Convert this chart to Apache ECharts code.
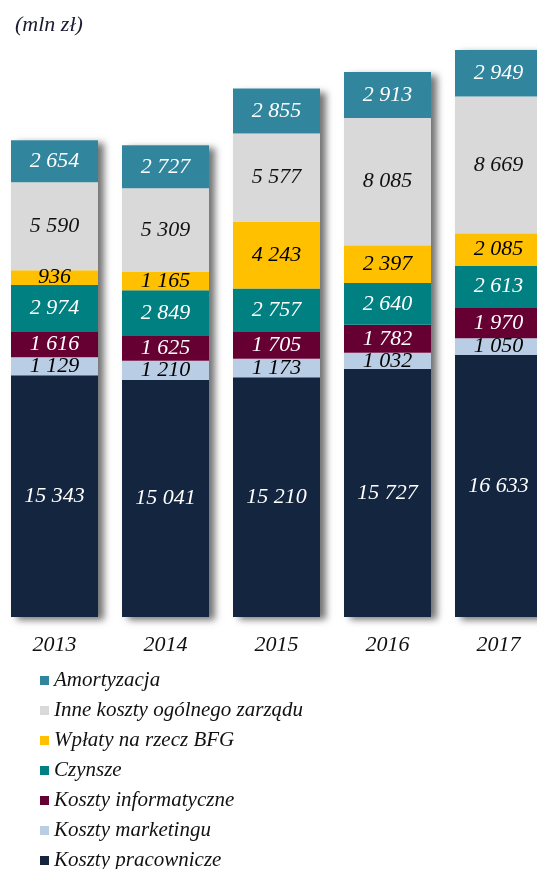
<!DOCTYPE html>
<html>
<head>
<meta charset="utf-8">
<script src="https://cdn.jsdelivr.net/npm/echarts@6/dist/echarts.min.js"></script>
<style>
  html, body { margin: 0; padding: 0; background: #fff; }
  #chart { width: 537px; height: 869px; }
</style>
</head>
<body>
<div id="chart"></div>
<script>
// lata
var years = ['2013', '2014', '2015', '2016', '2017']
// serie od dołu słupka
var pracownicze = [15343, 15041, 15210, 15727, 16633]
var marketing = [1129, 1210, 1173, 1032, 1050]
var informatyczne = [1616, 1625, 1705, 1782, 1970]
var czynsze = [2974, 2849, 2757, 2640, 2613]
var bfg = [936, 1165, 4243, 2397, 2085]
var inne = [5590, 5309, 5577, 8085, 8669]
var amortyzacja = [2654, 2727, 2855, 2913, 2949]

var seriesDefs = [
  { name: 'Koszty pracownicze', data: pracownicze, color: '#13253f', text: '#fff' },
  { name: 'Koszty marketingu', data: marketing, color: '#b9cde5', text: '#000' },
  { name: 'Koszty informatyczne', data: informatyczne, color: '#660033', text: '#fff' },
  { name: 'Czynsze', data: czynsze, color: '#008080', text: '#fff' },
  { name: 'Wpłaty na rzecz BFG', data: bfg, color: '#ffc000', text: '#000' },
  { name: 'Inne koszty ogólnego zarządu', data: inne, color: '#d9d9d9', text: '#111' },
  { name: 'Amortyzacja', data: amortyzacja, color: '#31859c', text: '#fff' }
]

var font = '"Liberation Serif", "Times New Roman", serif'

function fmt (v) {
  return String(v).replace(/\B(?=(\d{3})+(?!\d))/g, ' ')
}

// sumy tylko dla cienia pod słupkami
var totals = years.map(function (y, i) {
  return seriesDefs.reduce(function (s, d) { return s + d.data[i] }, 0)
})

var series = [{
  name: 'cien',
  type: 'bar',
  data: totals,
  barWidth: 87,
  barGap: '-100%',
  z: 1,
  silent: true,
  itemStyle: {
    color: '#fff',
    shadowColor: 'rgba(0,0,0,0.55)',
    shadowBlur: 7,
    shadowOffsetX: 6,
    shadowOffsetY: 3
  }
}]

seriesDefs.forEach(function (d) {
  series.push({
    name: d.name,
    type: 'bar',
    stack: 'koszty',
    data: d.data,
    barWidth: 87,
    z: 2,
    itemStyle: { color: d.color },
    label: {
      show: true,
      position: 'inside',
      formatter: function (p) { return fmt(p.value) },
      color: d.text,
      fontFamily: font,
      fontStyle: 'italic',
      fontSize: 22
    }
  })
})

var chart = echarts.init(document.getElementById('chart'))
chart.setOption({
  animation: false,
  color: seriesDefs.map(function (d) { return d.color }).concat(['#fff']),
  title: {
    text: '(mln zł)',
    left: 10,
    top: 9,
    textStyle: { fontFamily: font, fontStyle: 'italic', fontWeight: 'normal', fontSize: 22, color: '#1a1a33' }
  },
  grid: { left: -1, width: 555, top: 18, height: 599, outerBoundsMode: 'none', containLabel: false },
  legend: {
    orient: 'vertical',
    left: 40,
    top: 670,
    height: 240,
    padding: 0,
    icon: 'rect',
    itemWidth: 9,
    itemHeight: 9,
    itemGap: 9,
    data: seriesDefs.slice().reverse().map(function (d) { return d.name }),
    textStyle: { fontFamily: font, fontStyle: 'italic', fontSize: 21, color: '#111' }
  },
  xAxis: {
    type: 'category',
    data: years,
    axisLine: { show: false },
    axisTick: { show: false },
    axisLabel: { margin: 17, fontFamily: font, fontStyle: 'italic', fontSize: 22, color: '#111' }
  },
  yAxis: {
    type: 'value',
    min: 0,
    max: 38000,
    show: false
  },
  series: series
})
</script>
</body>
</html>
